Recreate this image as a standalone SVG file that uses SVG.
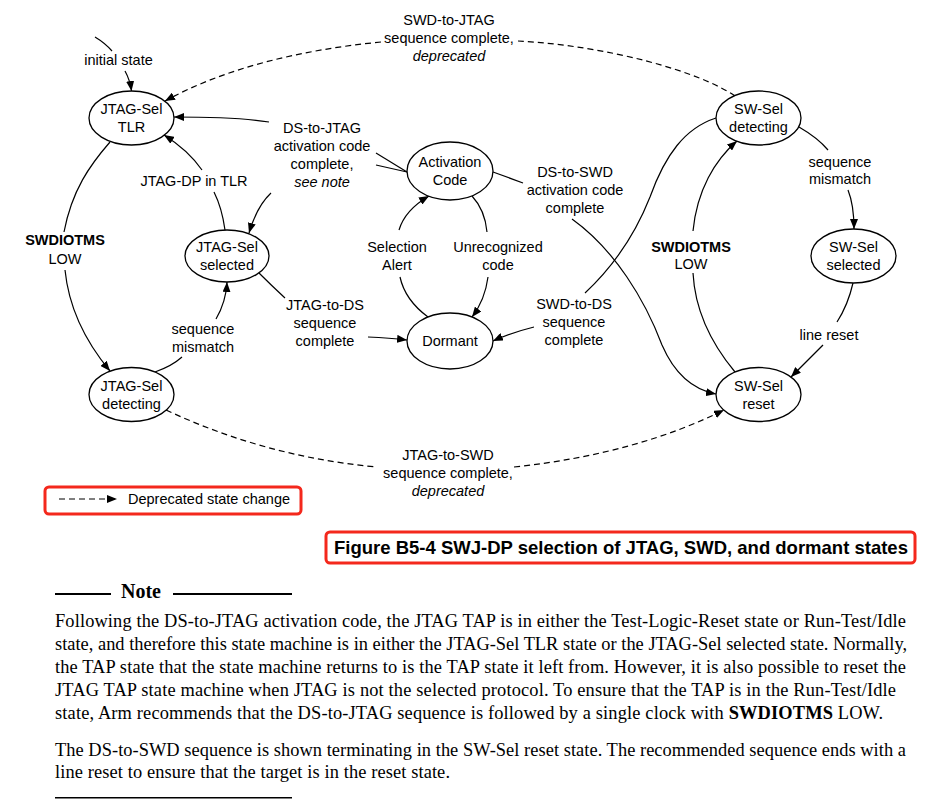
<svg xmlns="http://www.w3.org/2000/svg" width="930" height="812" viewBox="0 0 930 812">
<defs>
<marker id="ah" viewBox="0 0 10 8" refX="10" refY="4" markerWidth="10" markerHeight="8" orient="auto" markerUnits="userSpaceOnUse"><path d="M0,0 L10,4 L0,8 z" fill="#000"/></marker>
<style>
.node ellipse{fill:#fff;stroke:#000;stroke-width:1.3}
.nt{font-family:"Liberation Sans",Arial,sans-serif;font-size:14.5px;fill:#000;text-anchor:middle}
.lb{font-family:"Liberation Sans",Arial,sans-serif;font-size:14.5px;fill:#000;text-anchor:middle}
.it{font-style:italic}
.bd{font-weight:bold}
.c{fill:none;stroke:#000;stroke-width:1.2}
.d{fill:none;stroke:#000;stroke-width:1.2;stroke-dasharray:6,4}
.a{marker-end:url(#ah)}
.body{font-family:"Liberation Serif","Times New Roman",serif;font-size:18.4px;fill:#000}
.red{fill:#fff;stroke:#f4281c;stroke-width:3}
</style>
</defs>
<rect width="930" height="812" fill="#fff"/>

<g id="connectors">
<path class="c" d="M95,37 Q105,43 112,51"/>
<path class="c a" d="M125,71 Q130,80 131.5,91"/>
<path class="d" d="M735,96 C700,72 610,46 518,41"/>
<path class="d a" d="M381,42 C300,50 225,68 165,101"/>
<path class="c" d="M407,172 L376,153"/>
<path class="c" d="M407,172 L376,165"/>
<path class="c a" d="M269,122 Q238,117 174,117"/>
<path class="c a" d="M271,193 Q257,206 249,233"/>
<path class="c" d="M225,230 Q222,208 214,192"/>
<path class="c a" d="M202,170 Q188,150 164,135"/>
<path class="c" d="M110,142 C90,165 72,190 64,232"/>
<path class="c a" d="M65,270 C68,300 80,335 110,371"/>
<path class="c" d="M155,372 Q172,366 182,357"/>
<path class="c a" d="M216,319 Q226,302 227,282"/>
<path class="c" d="M259,273 Q272,286 285,298"/>
<path class="c a" d="M368,337 Q390,338 407,340"/>
<path class="c" d="M428,317 Q405,300 400,277"/>
<path class="c a" d="M399,230 Q405,210 429,196"/>
<path class="c" d="M472,196 Q485,210 487,232"/>
<path class="c a" d="M488,277 Q485,300 472,317"/>
<path class="c" d="M493,172 L523,183"/>
<path class="c a" d="M572,219 C615,250 645,300 662,345 C675,375 695,390 716,394"/>
<path class="c" d="M585,293 C615,265 635,235 650,197 C665,155 685,128 716,118"/>
<path class="c a" d="M534,327 Q510,333 493,341"/>
<path class="c" d="M735,372 C710,342 695,310 693,273"/>
<path class="c a" d="M693,231 C697,190 715,160 737,141"/>
<path class="c" d="M799,127 Q818,138 828,150"/>
<path class="c a" d="M848,190 Q854,205 854,229"/>
<path class="c" d="M853,283 Q848,305 837,322"/>
<path class="c a" d="M823,345 Q808,360 791,377"/>
<path class="d" d="M166,410 C230,440 300,460 377,467"/>
<path class="d a" d="M514,467 C600,458 670,437 724,410"/>
</g>

<g id="labels">
<text class="lb" x="118.5" y="65">initial state</text>
<text class="lb" x="449" y="25">SWD-to-JTAG</text>
<text class="lb" x="449" y="43">sequence complete,</text>
<text class="lb it" x="449" y="61">deprecated</text>
<text class="lb" x="322" y="133">DS-to-JTAG</text>
<text class="lb" x="322" y="151">activation code</text>
<text class="lb" x="322" y="169">complete,</text>
<text class="lb it" x="322" y="187">see note</text>
<text class="lb" x="194" y="186">JTAG-DP in TLR</text>
<text class="lb bd" x="65" y="245">SWDIOTMS</text>
<text class="lb" x="65" y="264">LOW</text>
<text class="lb" x="203" y="334">sequence</text>
<text class="lb" x="203" y="352">mismatch</text>
<text class="lb" x="325" y="310">JTAG-to-DS</text>
<text class="lb" x="325" y="328">sequence</text>
<text class="lb" x="325" y="346">complete</text>
<text class="lb" x="397" y="252">Selection</text>
<text class="lb" x="397" y="270">Alert</text>
<text class="lb" x="498" y="252">Unrecognized</text>
<text class="lb" x="498" y="270">code</text>
<text class="lb" x="575" y="177">DS-to-SWD</text>
<text class="lb" x="575" y="195">activation code</text>
<text class="lb" x="575" y="213">complete</text>
<text class="lb" x="574" y="309">SWD-to-DS</text>
<text class="lb" x="574" y="327">sequence</text>
<text class="lb" x="574" y="345">complete</text>
<text class="lb bd" x="691" y="252">SWDIOTMS</text>
<text class="lb" x="691" y="269">LOW</text>
<text class="lb" x="840" y="167">sequence</text>
<text class="lb" x="840" y="184">mismatch</text>
<text class="lb" x="829" y="340">line reset</text>
<text class="lb" x="448" y="460">JTAG-to-SWD</text>
<text class="lb" x="448" y="478">sequence complete,</text>
<text class="lb it" x="448" y="496">deprecated</text>
</g>

<g id="n-jtag-tlr" class="node">
<ellipse cx="131.5" cy="118" rx="42.5" ry="27"/>
<text class="nt" x="131.5" y="114">JTAG-Sel</text>
<text class="nt" x="131.5" y="132">TLR</text>
</g>
<g id="n-jtag-selected" class="node">
<ellipse cx="227" cy="256" rx="42" ry="26"/>
<text class="nt" x="227" y="252">JTAG-Sel</text>
<text class="nt" x="227" y="270">selected</text>
</g>
<g id="n-jtag-detecting" class="node">
<ellipse cx="131.5" cy="394.5" rx="42.5" ry="27"/>
<text class="nt" x="131.5" y="390.5">JTAG-Sel</text>
<text class="nt" x="131.5" y="408.5">detecting</text>
</g>
<g id="n-activation" class="node">
<ellipse cx="450" cy="171" rx="43" ry="29"/>
<text class="nt" x="450" y="167">Activation</text>
<text class="nt" x="450" y="185">Code</text>
</g>
<g id="n-dormant" class="node">
<ellipse cx="450" cy="341" rx="43" ry="28"/>
<text class="nt" x="450" y="346">Dormant</text>
</g>
<g id="n-sw-detecting" class="node">
<ellipse cx="758.5" cy="118" rx="42.5" ry="27"/>
<text class="nt" x="758.5" y="114">SW-Sel</text>
<text class="nt" x="758.5" y="132">detecting</text>
</g>
<g id="n-sw-selected" class="node">
<ellipse cx="853.5" cy="256" rx="42.5" ry="27"/>
<text class="nt" x="853.5" y="252">SW-Sel</text>
<text class="nt" x="853.5" y="270">selected</text>
</g>
<g id="n-sw-reset" class="node">
<ellipse cx="758.5" cy="394.5" rx="42.5" ry="27"/>
<text class="nt" x="758.5" y="390.5">SW-Sel</text>
<text class="nt" x="758.5" y="408.5">reset</text>
</g>

<g id="legend">
<rect class="red" x="45" y="487" width="256" height="27" rx="4"/>
<path class="d a" d="M59,499 L117,499"/>
<text class="lb" x="128" y="504" style="text-anchor:start">Deprecated state change</text>
</g>

<g id="caption">
<rect class="red" x="326" y="532" width="589" height="31" rx="4"/>
<text x="334" y="553.5" style="font-family:'Liberation Sans',Arial,sans-serif;font-size:18.5px;font-weight:bold;fill:#000">Figure B5-4 SWJ-DP selection of JTAG, SWD, and dormant states</text>
</g>

<g id="note">
<rect x="55" y="593" width="56" height="2" fill="#000"/>
<text x="121" y="598" style="font-family:'Liberation Serif','Times New Roman',serif;font-size:20px;font-weight:bold;fill:#000">Note</text>
<rect x="173" y="593" width="119" height="2" fill="#000"/>
<text class="body" x="55" y="627" textLength="851" lengthAdjust="spacing">Following the DS-to-JTAG activation code, the JTAG TAP is in either the Test-Logic-Reset state or Run-Test/Idle</text>
<text class="body" x="55" y="650" textLength="852" lengthAdjust="spacing">state, and therefore this state machine is in either the JTAG-Sel TLR state or the JTAG-Sel selected state. Normally,</text>
<text class="body" x="55" y="673" textLength="851" lengthAdjust="spacing">the TAP state that the state machine returns to is the TAP state it left from. However, it is also possible to reset the</text>
<text class="body" x="55" y="696" textLength="841" lengthAdjust="spacing">JTAG TAP state machine when JTAG is not the selected protocol. To ensure that the TAP is in the Run-Test/Idle</text>
<text class="body" x="55" y="719" textLength="828" lengthAdjust="spacing">state, Arm recommends that the DS-to-JTAG sequence is followed by a single clock with <tspan font-weight="bold">SWDIOTMS</tspan> LOW.</text>
<text class="body" x="55" y="756" textLength="851" lengthAdjust="spacing">The DS-to-SWD sequence is shown terminating in the SW-Sel reset state. The recommended sequence ends with a</text>
<text class="body" x="55" y="778" textLength="395" lengthAdjust="spacing">line reset to ensure that the target is in the reset state.</text>
<rect x="55" y="797" width="237" height="1.5" fill="#000"/>
</g>
</svg>
